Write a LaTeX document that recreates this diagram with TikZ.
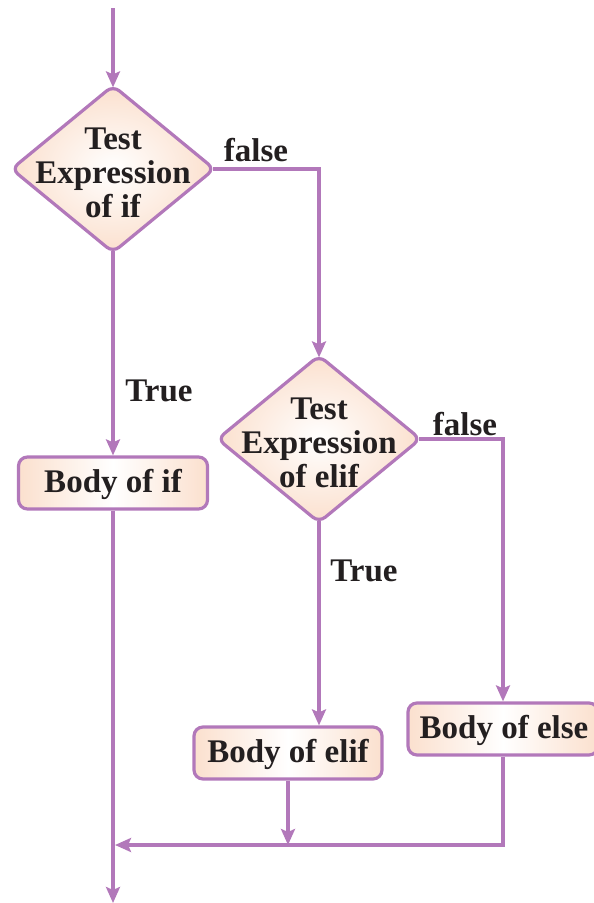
\documentclass[tikz,border=0pt]{standalone}
\usepackage{fontspec}
\setmainfont{Liberation Serif}
\usetikzlibrary{shapes.geometric,arrows.meta}
\definecolor{lin}{RGB}{178,120,186}
\definecolor{peach}{RGB}{251,224,206}
\definecolor{txt}{RGB}{35,31,32}
\begin{document}
\begin{tikzpicture}[x=1pt,y=-1pt,
  every node/.style={text=txt,font=\bfseries\fontsize{33}{34}\selectfont},
  dia/.style={diamond,draw=lin,line width=3.2pt,rounded corners=8pt,
    minimum width=204pt,minimum height=168pt,inner sep=0pt,
    inner color=white,outer color=peach},
  bodybox/.style={rectangle,draw=lin,line width=3.2pt,rounded corners=9pt,
    minimum height=52pt,inner sep=0pt,
    left color=peach,right color=peach,middle color=white},
  lbl/.style={inner sep=0pt},
  arr/.style={draw=lin,line width=3.2pt,-{Stealth[length=16pt,width=14pt,inset=3pt]}},
  fromdia/.style={shorten <=-4pt},
  todia/.style={shorten >=-4pt}]
\useasboundingbox (0,0) rectangle (594,903);
\coordinate (start) at (113,8);
\coordinate (fin) at (113,903);
\coordinate (mj) at (115,845);
\node[dia] (d1) at (113,169) {};
\node[lbl,align=center] (d1t) at (113,173) {Test\\Expression\\of if};
\node[dia] (d2) at (319,439) {};
\node[lbl,align=center] (d2t) at (319,443) {Test\\Expression\\of elif};
\node[bodybox,minimum width=189pt] (b1) at (113,483) {};
\node[lbl] (b1t) at (113,484) {Body of if};
\node[bodybox,minimum width=188pt] (b2) at (288,753) {};
\node[lbl] (b2t) at (288,754) {Body of elif};
\node[bodybox,minimum width=190pt] (b3) at (503,729) {};
\node[lbl] (b3t) at (504,730) {Body of else};
\node[lbl] (f1) at (256,150) {false};
\node[lbl] (f2) at (465,424) {false};
\node[lbl] (t1) at (159,391) {True};
\node[lbl] (t2) at (364,571) {True};
\draw[arr,todia] (start) -- (d1.north);
\draw[arr,fromdia,todia] (d1.east) -| (d2.north);
\draw[arr,fromdia] (d1.south) -- (b1.north);
\draw[arr] (b1.south) -- (fin);
\draw[arr,fromdia] (d2.south) -- (d2.south |- b2.north);
\draw[arr,fromdia] (d2.east) -| (b3.north);
\draw[arr] (b2.south) -- (b2.south |- mj);
\draw[arr] (b3.south) |- (mj);
\end{tikzpicture}
\end{document}
